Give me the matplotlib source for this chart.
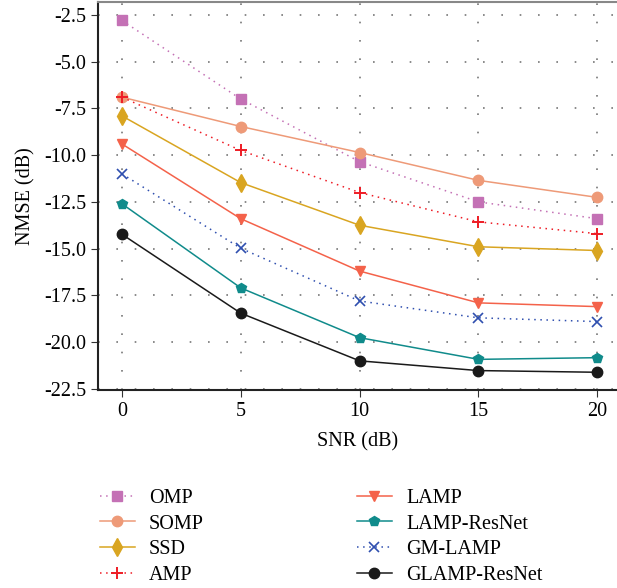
import matplotlib
matplotlib.use("Agg")
import matplotlib.pyplot as plt

plt.rcParams["font.family"] = ["Liberation Serif", "DejaVu Serif"]
plt.rcParams["axes.unicode_minus"] = False

snr = [0, 5, 10, 15, 20]

omp = [-2.8, -7.0, -10.35, -12.5, -13.4]
somp = [-6.9, -8.47, -9.86, -11.35, -12.26]
ssd = [-7.9, -11.47, -13.75, -14.9, -15.1]
amp = [-6.9, -9.75, -12.0, -13.57, -14.2]
lamp = [-9.4, -13.4, -16.2, -17.9, -18.1]
lamp_resnet = [-12.6, -17.1, -19.76, -20.92, -20.83]
gm_lamp = [-11.0, -14.98, -17.8, -18.7, -18.9]
glamp_resnet = [-14.23, -18.45, -21.0, -21.52, -21.61]

labels = ["OMP", "SOMP", "SSD", "AMP", "LAMP", "LAMP-ResNet", "GM-LAMP", "GLAMP-ResNet"]
yticks = [-2.5, -5.0, -7.5, -10.0, -12.5, -15.0, -17.5, -20.0, -22.5]

fig = plt.figure(figsize=(6.17, 5.88), dpi=100)
ax = fig.add_axes([0.159, 0.337, 0.84, 0.66])

dot = (0, (1, 3))
ms = 7.5
ax.plot(snr, omp, color="#C471B5", ls=dot, lw=1.1, marker="s", ms=ms, label=labels[0])
ax.plot(snr, somp, color="#EE9A78", ls="-", lw=1.1, marker="o", ms=ms, label=labels[1])
ax.plot(snr, ssd, color="#D9A521", ls="-", lw=1.1, marker="d", ms=9, label=labels[2])
ax.plot(snr, amp, color="#EE1C25", ls=dot, lw=1.1, marker="+", ms=9, mew=1.4, label=labels[3])
ax.plot(snr, lamp, color="#F4624A", ls="-", lw=1.1, marker="v", ms=ms, label=labels[4])
ax.plot(snr, lamp_resnet, color="#108B8B", ls="-", lw=1.1, marker="p", ms=ms, label=labels[5])
ax.plot(snr, gm_lamp, color="#2F4FAF", ls=dot, lw=1.1, marker="x", ms=7, mew=1.2, label=labels[6])
ax.plot(snr, glamp_resnet, color="#1A1A1A", ls="-", lw=1.1, marker="o", ms=ms, label=labels[7])

ax.set_xlim(-1, 20.8)
ax.set_ylim(-22.55, -1.8)
ax.set_xticks(snr)
ax.set_yticks(yticks)
ax.set_yticklabels([f"{v:.1f}" for v in yticks])
ax.grid(True, color="#777777", ls=(0, (1, 10)), lw=1.2)
ax.tick_params(labelsize=14.5, length=5, direction="out", color="#333333")
ax.set_xlabel("SNR (dB)", fontsize=14.5, labelpad=8)
ax.set_ylabel("NMSE (dB)", fontsize=14.5, labelpad=6)
for s in ["left", "bottom"]:
    ax.spines[s].set_linewidth(1.5)
    ax.spines[s].set_color("#222222")
ax.spines["top"].set_color("#888888")
ax.spines["top"].set_linewidth(1.5)
ax.spines["right"].set_visible(False)

handles, labs = ax.get_legend_handles_labels()
fig.legend(handles, labs, loc="upper left", bbox_to_anchor=(0.145, 0.186),
           ncol=2, frameon=False, fontsize=14.5, borderpad=0,
           handlelength=1.75, handletextpad=0.7, columnspacing=7.6,
           labelspacing=0.33)

fig.savefig("out.png", dpi=100)
